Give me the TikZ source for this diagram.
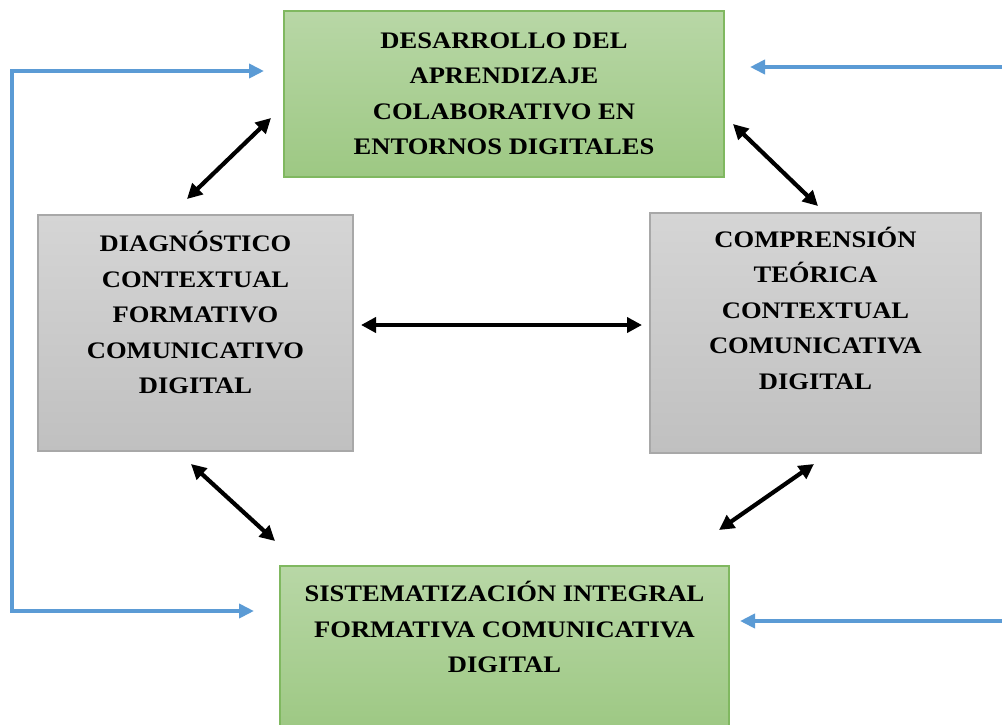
\documentclass[tikz,border=0pt]{standalone}
\usepackage{fontspec}
\setmainfont{Liberation Serif}[FakeStretch=1.12]
\usetikzlibrary{arrows.meta}
\definecolor{verdeA}{RGB}{184,215,166}
\definecolor{verdeB}{RGB}{157,200,131}
\definecolor{bordeverde}{RGB}{128,184,96}
\definecolor{grisA}{RGB}{213,213,213}
\definecolor{grisB}{RGB}{192,192,192}
\definecolor{bordegris}{RGB}{168,168,168}
\definecolor{azul}{RGB}{91,155,213}
\tikzset{
	caja/.style={rectangle,align=center,inner sep=0pt,line width=0.75pt,
		font=\fontsize{11.85pt}{17.75pt}\selectfont\bfseries},
	cajaverde/.style={caja,draw=bordeverde,top color=verdeA,bottom color=verdeB},
	cajagris/.style={caja,draw=bordegris,top color=grisA,bottom color=grisB},
	flecha/.style={<->,line width=2.1pt,>={Triangle[length=7.5pt,width=7.5pt]}},
	retro/.style={->,line width=2pt,color=azul,>={Triangle[length=7.5pt,width=7pt]}}
}
\begin{document}
\begin{tikzpicture}[x=0.5pt,y=-0.5pt]
			\path[use as bounding box,clip] (0,0) rectangle (1002,724);
			% cajas
			\node[cajaverde,minimum width=220pt,minimum height=83pt] (desarrollo) at (504,94) {DESARROLLO DEL\\APRENDIZAJE\\COLABORATIVO EN\\ENTORNOS DIGITALES};
			\node[cajagris,minimum width=157.5pt,minimum height=118pt] (diagnostico) at (195.5,333) {DIAGNÓSTICO\\CONTEXTUAL\\FORMATIVO\\COMUNICATIVO\\DIGITAL\\[2.75pt]};
			\node[cajagris,minimum width=165.5pt,minimum height=120pt] (comprension) at (815.5,333) {COMPRENSIÓN\\TEÓRICA\\CONTEXTUAL\\COMUNICATIVA\\DIGITAL\\[7pt]};
			\node[cajaverde,minimum width=224.5pt,minimum height=83pt] (sistematizacion) at (504.5,649) {SISTEMATIZACIÓN INTEGRAL\\FORMATIVA COMUNICATIVA\\DIGITAL\\[4pt]};
			% flechas dobles
			\coordinate (a1) at (187,199); \coordinate (a2) at (271,118);
			\coordinate (b1) at (733,124); \coordinate (b2) at (818,206);
			\coordinate (c1) at (361,325); \coordinate (c2) at (642,325);
			\coordinate (d1) at (191,464); \coordinate (d2) at (275,541);
			\coordinate (e1) at (719,530); \coordinate (e2) at (814,464);
			\draw[flecha] (a1)--(a2);
			\draw[flecha] (b1)--(b2);
			\draw[flecha] (c1)--(c2);
			\draw[flecha] (d1)--(d2);
			\draw[flecha] (e1)--(e2);
			% retroalimentacion
			\coordinate (r1) at (264,71); \coordinate (r2) at (254,611);
			\coordinate (s1) at (1002,67); \coordinate (r3) at (750,67);
			\coordinate (s2) at (1002,621); \coordinate (r4) at (740,621);
			\draw[retro,<->] (r1)--(12,71)|-(r2);
			\draw[retro] (s1)--(r3);
			\draw[retro] (s2)--(r4);
\end{tikzpicture}
\end{document}
